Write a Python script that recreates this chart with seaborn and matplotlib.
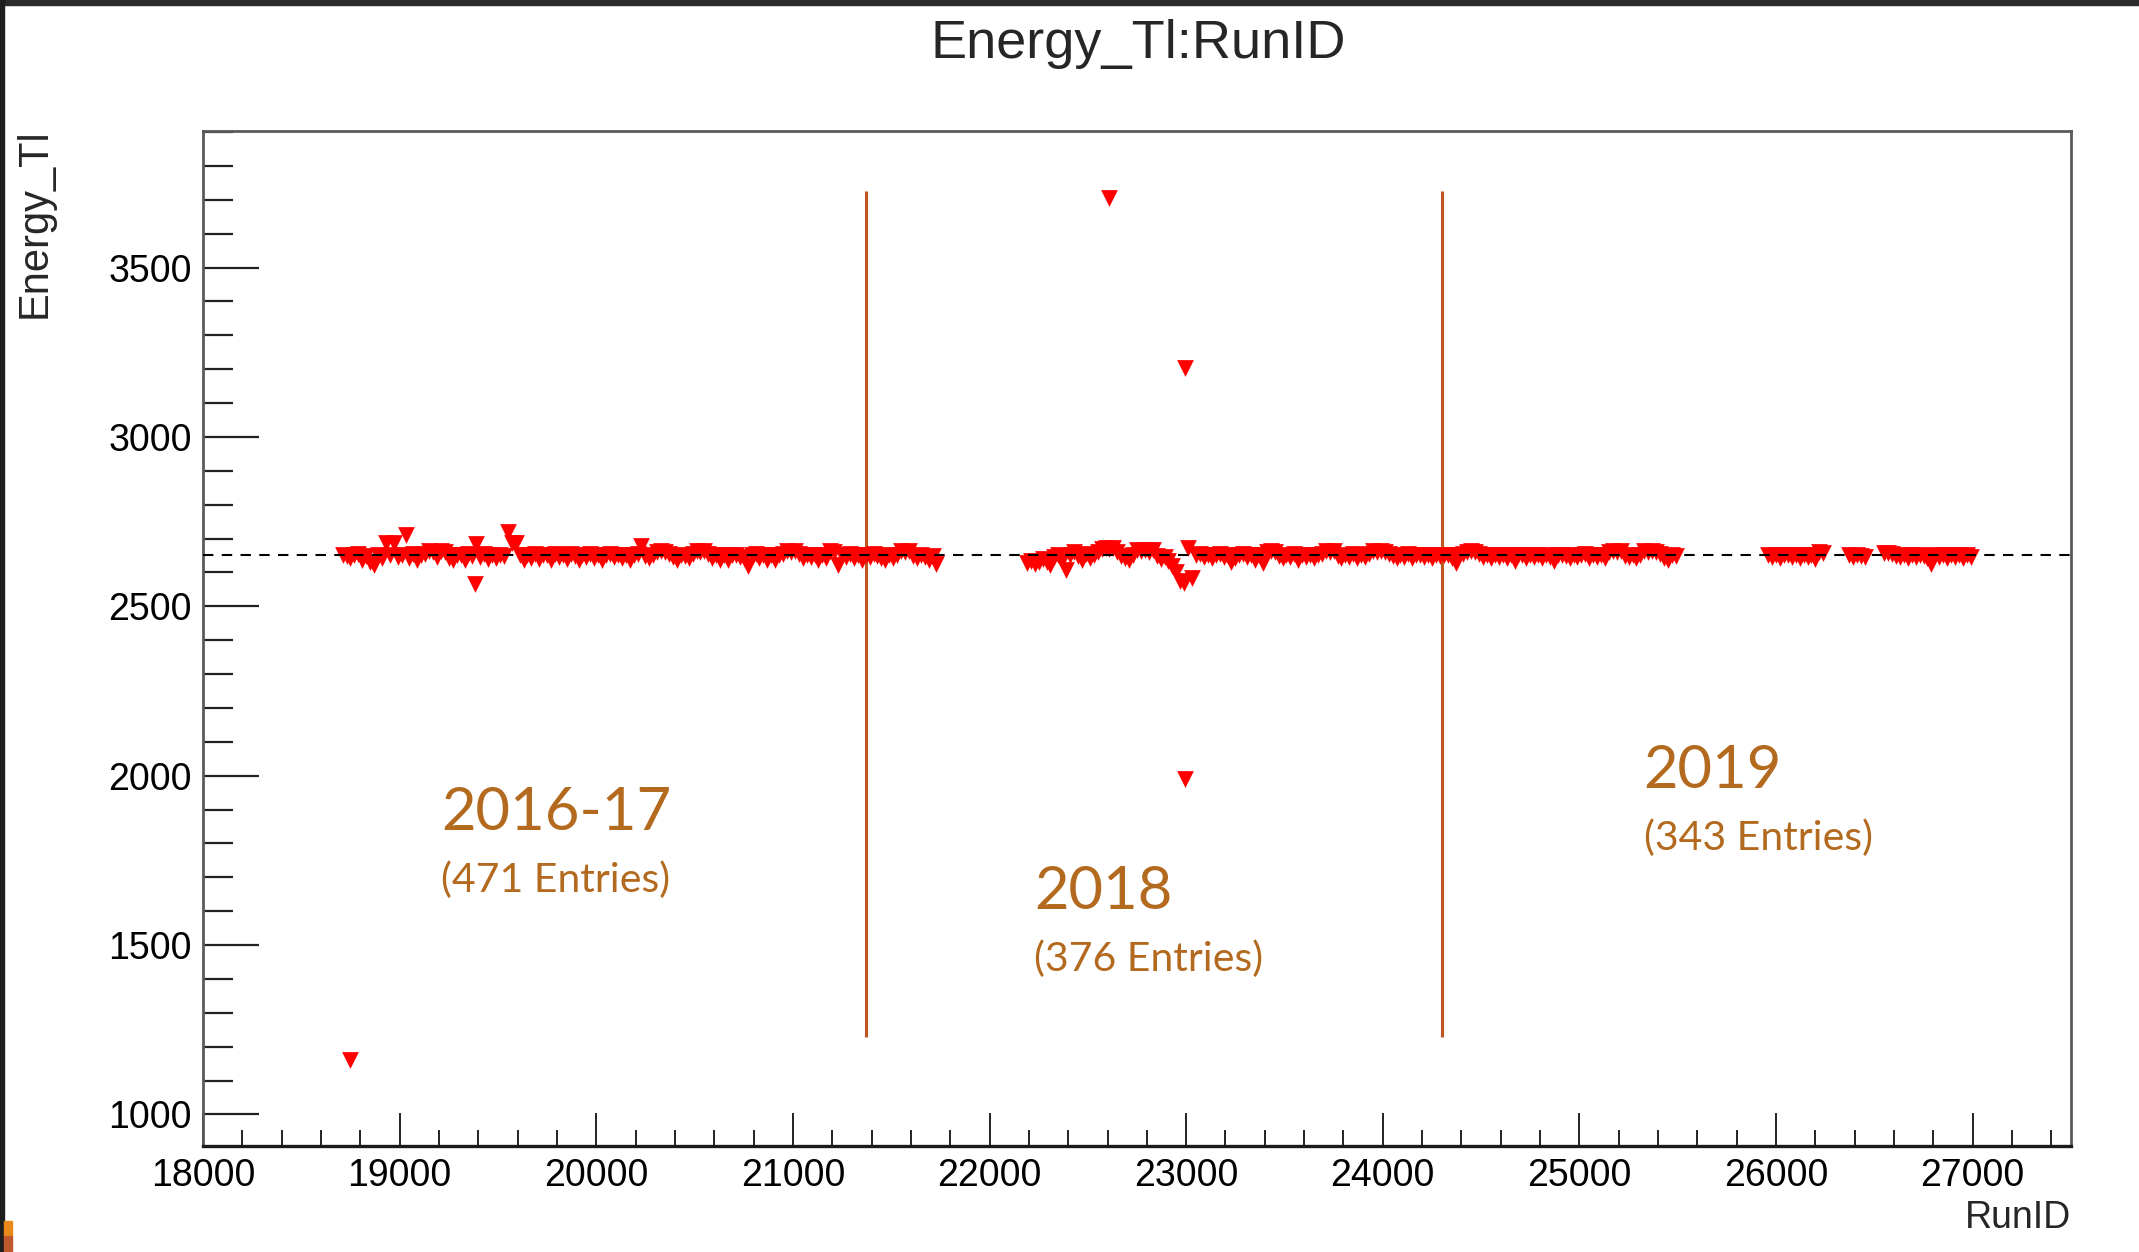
import matplotlib
matplotlib.use("Agg")
import matplotlib.pyplot as plt
from matplotlib.patches import Rectangle
from matplotlib.ticker import MultipleLocator
import pandas as pd
import seaborn as sns

# ---- Tl-208 peak position per run -------------------------------------
runs_2016 = [18710, 18730, 18750, 18770, 18790, 18810, 18830, 18850, 18870, 18890,
             18910, 18930, 18950, 18970, 18990, 19010, 19030, 19050, 19070, 19090,
             19110, 19130, 19150, 19170, 19190, 19210, 19230, 19250, 19270, 19290,
             19310, 19330, 19350, 19370, 19390, 19410, 19430, 19450, 19470, 19490,
             19510, 19530, 19550, 19570, 19590, 19610, 19630, 19650, 19670, 19690,
             19710, 19730, 19750, 19770, 19790, 19810, 19830, 19850, 19870, 19890,
             19910, 19930, 19950, 19970, 19990, 20010, 20030, 20050, 20070, 20090,
             20110, 20130, 20150, 20170, 20190, 20210, 20230, 20250, 20270, 20290,
             20310, 20330, 20350, 20370, 20390, 20410, 20430, 20450, 20470, 20490,
             20510, 20530, 20550, 20570, 20590, 20610, 20630, 20650, 20670, 20690,
             20710, 20730, 20750, 20770, 20790, 20810, 20830, 20850, 20870, 20890,
             20910, 20930, 20950, 20970, 20990, 21010, 21030, 21050, 21070, 21090,
             21110, 21130, 21150, 21170, 21190, 21210, 21230, 21250, 21270, 21290,
             21310, 21330, 21350, 21370, 21390, 21410, 21430, 21450, 21470, 21490,
             21510, 21530, 21550, 21570, 21590, 21610, 21630, 21650, 21670, 21690,
             21710, 21730]
energy_2016 = [2652, 2648, 2642, 2650, 2655, 2638, 2648, 2632, 2622, 2650,
               2642, 2686, 2650, 2686, 2645, 2652, 2710, 2642, 2655, 2638,
               2650, 2655, 2662, 2660, 2645, 2662, 2660, 2642, 2636, 2652,
               2650, 2638, 2655, 2648, 2684, 2645, 2655, 2640, 2650, 2642,
               2652, 2648, 2720, 2688, 2688, 2650, 2638, 2652, 2642, 2655,
               2640, 2650, 2652, 2638, 2655, 2645, 2650, 2640, 2655, 2648,
               2636, 2652, 2645, 2655, 2642, 2650, 2638, 2652, 2655, 2645,
               2650, 2642, 2652, 2638, 2650, 2655, 2678, 2648, 2642, 2652,
               2660, 2662, 2660, 2655, 2645, 2638, 2652, 2648, 2642, 2655,
               2662, 2660, 2662, 2655, 2642, 2650, 2638, 2652, 2636, 2650,
               2652, 2645, 2642, 2620, 2650, 2655, 2642, 2652, 2638, 2650,
               2638, 2650, 2655, 2662, 2660, 2662, 2655, 2642, 2650, 2645,
               2652, 2638, 2650, 2642, 2662, 2660, 2622, 2650, 2645, 2655,
               2642, 2650, 2638, 2652, 2645, 2655, 2648, 2642, 2638, 2652,
               2642, 2650, 2662, 2660, 2662, 2648, 2642, 2652, 2645, 2638,
               2648, 2625]

runs_2018 = [22190, 22210, 22230, 22250, 22270, 22290, 22310, 22330, 22350, 22370,
             22390, 22410, 22430, 22450, 22470, 22490, 22510, 22530, 22550, 22570,
             22590, 22610, 22630, 22650, 22670, 22690, 22710, 22730, 22750, 22770,
             22790, 22810, 22830, 22850, 22870, 22890, 22910, 22930, 22950, 22970,
             22990, 23010, 23030, 23050, 23070, 23090, 23110, 23130, 23150, 23170,
             23190, 23210, 23230, 23250, 23270, 23290, 23310, 23330, 23350, 23370,
             23390, 23410, 23430, 23450, 23470, 23490, 23510, 23530, 23550, 23570,
             23590, 23610, 23630, 23650, 23670, 23690, 23710, 23730, 23750, 23770,
             23790, 23810, 23830, 23850, 23870, 23890, 23910, 23930, 23950, 23970,
             23990, 24010, 24030, 24050, 24070, 24090, 24110, 24130, 24150, 24170,
             24190, 24210, 24230, 24250, 24270, 24290]
energy_2018 = [2628, 2635, 2625, 2632, 2640, 2630, 2622, 2645, 2650, 2638,
               2608, 2650, 2660, 2648, 2638, 2655, 2642, 2650, 2660, 2670,
               2672, 2668, 2672, 2660, 2648, 2642, 2638, 2652, 2665, 2662,
               2665, 2660, 2665, 2648, 2640, 2645, 2635, 2620, 2600, 2575,
               2568, 2672, 2585, 2650, 2655, 2645, 2652, 2642, 2650, 2655,
               2645, 2650, 2632, 2642, 2650, 2655, 2645, 2650, 2638, 2652,
               2628, 2660, 2662, 2660, 2648, 2642, 2652, 2645, 2655, 2638,
               2650, 2645, 2652, 2642, 2650, 2655, 2662, 2660, 2662, 2648,
               2642, 2652, 2645, 2655, 2642, 2650, 2645, 2655, 2662, 2660,
               2662, 2660, 2655, 2648, 2642, 2652, 2645, 2655, 2642, 2650,
               2652, 2645, 2650, 2642, 2652, 2648]

runs_2019 = [24310, 24330, 24350, 24370, 24390, 24410, 24430, 24450, 24470, 24490,
             24510, 24530, 24550, 24570, 24590, 24610, 24630, 24650, 24670, 24690,
             24710, 24730, 24750, 24770, 24790, 24810, 24830, 24850, 24870, 24890,
             24910, 24930, 24950, 24970, 24990, 25010, 25030, 25050, 25070, 25090,
             25110, 25130, 25150, 25170, 25190, 25210, 25230, 25250, 25270, 25290,
             25310, 25330, 25350, 25370, 25390, 25410, 25430, 25450, 25470, 25490,
             25960, 25980, 26000, 26020, 26040, 26060, 26080, 26100, 26120, 26140,
             26160, 26180, 26200, 26220, 26240,
             26370, 26390, 26410, 26430, 26450,
             26550, 26570, 26590, 26610, 26630, 26650, 26670, 26690, 26710, 26730,
             26750, 26770, 26790, 26810, 26830, 26850, 26870, 26890, 26910, 26930,
             26950, 26970, 26990]
energy_2019 = [2650, 2652, 2642, 2628, 2650, 2655, 2660, 2662, 2660, 2655,
               2645, 2652, 2642, 2650, 2645, 2652, 2642, 2650, 2635, 2652,
               2650, 2642, 2652, 2645, 2650, 2642, 2652, 2645, 2634, 2650,
               2652, 2648, 2642, 2652, 2645, 2650, 2655, 2642, 2652, 2645,
               2650, 2642, 2660, 2662, 2660, 2662, 2648, 2645, 2652, 2642,
               2650, 2662, 2660, 2662, 2660, 2655, 2642, 2636, 2652, 2648,
               2650, 2645, 2652, 2642, 2650, 2652, 2645, 2650, 2642, 2652,
               2645, 2650, 2640, 2660, 2658,
               2650, 2645, 2652, 2648, 2645,
               2656, 2658, 2655, 2648, 2645, 2652, 2642, 2650, 2645, 2652,
               2648, 2642, 2626, 2650, 2645, 2652, 2642, 2650, 2645, 2652,
               2642, 2650, 2645]

# isolated runs far from the peak band
outlier_runs = [18746, 19384, 22607, 22995, 22995]
outlier_energy = [1160, 2566, 3705, 3202, 1990]
outlier_period = ["2016-17", "2016-17", "2018", "2018", "2018"]

period_labels = ["2016-17", "2018", "2019"]
entries_labels = ["(471 Entries)", "(376 Entries)", "(343 Entries)"]
period_boundaries = [21370, 24300]
reference_energy = 2650

df = pd.DataFrame({
    "RunID": runs_2016 + runs_2018 + runs_2019 + outlier_runs,
    "Energy_Tl": energy_2016 + energy_2018 + energy_2019 + outlier_energy,
    "period": (["2016-17"] * len(runs_2016) + ["2018"] * len(runs_2018)
               + ["2019"] * len(runs_2019) + outlier_period),
})

# ---- styling -----------------------------------------------------------
sns.set_theme(style="white")
plt.rcParams["font.family"] = ["Liberation Sans", "DejaVu Sans"]

W, H = 2139, 1252
fig = plt.figure(figsize=(W / 100, H / 100), dpi=100)
fig.patch.set_facecolor("white")
ax = fig.add_axes([203 / W, 1 - 1146 / H, (2071 - 203) / W, (1146 - 131) / H])
ax.set_facecolor("white")

sns.scatterplot(data=df, x="RunID", y="Energy_Tl", marker="v", color="#ff0000",
                s=145, linewidth=0, legend=False, ax=ax, zorder=3)

ax.axhline(reference_energy, color="black", lw=1.5, dashes=(5, 4), zorder=4)
ax.vlines(period_boundaries, 1230, 3725, color="#c0561f", lw=2.2, zorder=2)

ax.set_xlim(18000, 27500)
ax.set_ylim(907, 3903)
ax.xaxis.set_major_locator(MultipleLocator(1000))
ax.xaxis.set_minor_locator(MultipleLocator(200))
ax.yaxis.set_major_locator(MultipleLocator(500))
ax.yaxis.set_minor_locator(MultipleLocator(100))

ax.tick_params(axis="x", which="both", direction="in", bottom=True, top=False,
               colors="#222222", labelsize=27, pad=9, width=1.4)
ax.tick_params(axis="x", which="major", length=24)
ax.tick_params(axis="x", which="minor", length=11.5)
ax.tick_params(axis="y", which="both", direction="in", left=True, right=False,
               colors="#222222", labelsize=27, pad=8, width=1.6)
ax.tick_params(axis="y", which="major", length=40)
ax.tick_params(axis="y", which="minor", length=21.5)
for lab in ax.get_xticklabels() + ax.get_yticklabels():
    lab.set_color("black")

for side in ["left", "right", "top", "bottom"]:
    ax.spines[side].set_visible(True)
    ax.spines[side].set_color("#5a5a5a")
    ax.spines[side].set_linewidth(2.0)
ax.spines["bottom"].set_color("#1a1a1a")
ax.spines["bottom"].set_linewidth(2.4)

ax.set_xlabel("")
ax.set_ylabel("")

# axis titles, pad title
fig.text(2071 / W, 1 - 1218 / H, "RunID", ha="right", va="center", fontsize=27)
fig.text(35 / W, 1 - 128 / H, "Energy_Tl", ha="center", va="top", rotation=90,
         fontsize=30)
fig.text(1138 / W, 1 - 44 / H, "Energy_Tl:RunID", ha="center", va="center",
         fontsize=39)

# period annotations
note_color = "#b36a1e"
year_pos = [(19210, 1890), (22228, 1657), (25327, 2014)]
entries_pos = [(19210, 1692), (22228, 1459), (25327, 1816)]
for lab, (x, y) in zip(period_labels, year_pos):
    ax.text(x, y, lab, color=note_color, fontsize=43, family=["Lato", "DejaVu Sans"],
            ha="left", va="center")
for lab, (x, y) in zip(entries_labels, entries_pos):
    ax.text(x, y, lab, color=note_color, fontsize=29.5, family=["Lato", "DejaVu Sans"],
            ha="left", va="center")

# window frame around the canvas
fig.patches.append(Rectangle((0, 1 - 5 / H), 1, 5 / H, transform=fig.transFigure,
                             color="#2b2b2b", zorder=10))
fig.patches.append(Rectangle((0, 0), 4 / W, 1, transform=fig.transFigure,
                             color="#1e1e1e", zorder=10))
fig.patches.append(Rectangle((4 / W, 16 / H), 8 / W, 15 / H, transform=fig.transFigure,
                             color="#e8891a", zorder=10))
fig.patches.append(Rectangle((4 / W, 0), 8 / W, 16 / H, transform=fig.transFigure,
                             color="#c0582e", zorder=10))

fig.savefig("out.png", dpi=100, facecolor="white")
